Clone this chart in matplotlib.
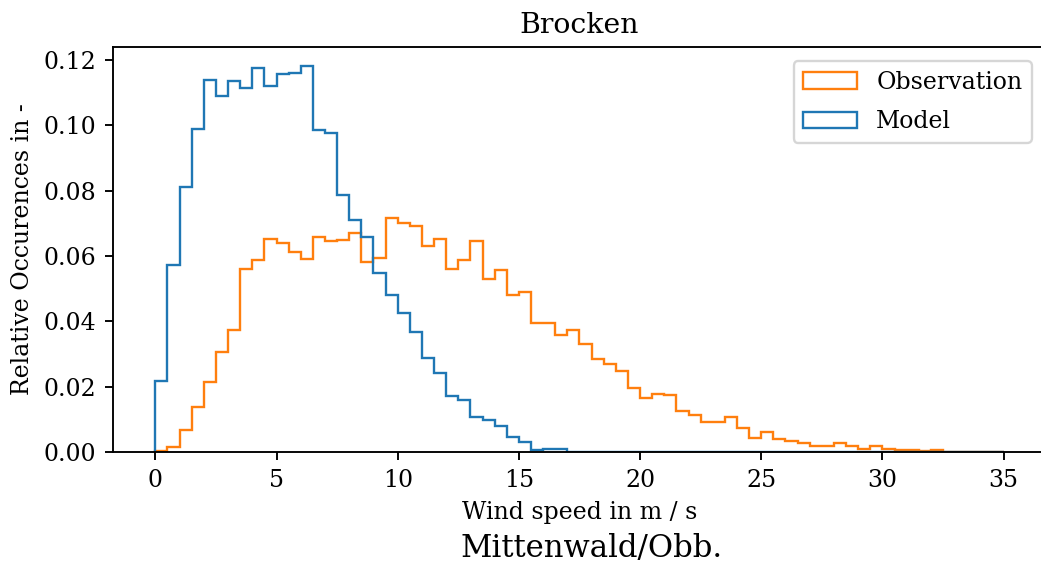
import numpy as np
import matplotlib
matplotlib.use('Agg')
import matplotlib.pyplot as plt

# bin edges in m/s (0.5 m/s bins)
edges = np.arange(0, 35.5, 0.5)

# relative occurrences per bin
observation = [
    0.0003, 0.0016, 0.0068, 0.0137, 0.0214, 0.0306, 0.0374, 0.0561, 0.0589, 0.0653,
    0.0640, 0.0612, 0.0591, 0.0659, 0.0647, 0.0649, 0.0671, 0.0581, 0.0593, 0.0717,
    0.0700, 0.0691, 0.0630, 0.0651, 0.0561, 0.0589, 0.0645, 0.0531, 0.0556, 0.0481,
    0.0491, 0.0395, 0.0395, 0.0359, 0.0374, 0.0330, 0.0284, 0.0269, 0.0249, 0.0195,
    0.0166, 0.0177, 0.0174, 0.0127, 0.0114, 0.0092, 0.0092, 0.0106, 0.0072, 0.0043,
    0.0061, 0.0039, 0.0034, 0.0027, 0.0017, 0.0017, 0.0028, 0.0017, 0.0008, 0.0019,
    0.0009, 0.0006, 0.0005, 0.0004, 0.0005, 0.0, 0.0, 0.0, 0.0, 0.0,
]
model = [
    0.0216, 0.0574, 0.0812, 0.0990, 0.1140, 0.1091, 0.1137, 0.1115, 0.1177, 0.1120,
    0.1157, 0.1159, 0.1181, 0.0985, 0.0978, 0.0787, 0.0710, 0.0658, 0.0548, 0.0480,
    0.0426, 0.0368, 0.0288, 0.0242, 0.0172, 0.0158, 0.0106, 0.0098, 0.0080, 0.0047,
    0.0030, 0.0007, 0.0010, 0.0010, 0.0, 0.0, 0.0, 0.0, 0.0, 0.0,
    0.0, 0.0, 0.0, 0.0, 0.0, 0.0, 0.0, 0.0, 0.0, 0.0,
    0.0, 0.0, 0.0, 0.0, 0.0, 0.0, 0.0, 0.0, 0.0, 0.0,
    0.0, 0.0, 0.0, 0.0, 0.0, 0.0, 0.0, 0.0, 0.0, 0.0,
]

plt.rcParams['font.family'] = ['DejaVu Serif']
dpi = 170
fig = plt.figure(figsize=(1041 / dpi, 568 / dpi), dpi=dpi)
ax = fig.add_axes([0.1085, 0.2042, 0.8963, 0.7131])

centers = edges[:-1] + 0.25
ax.hist(centers, bins=edges, weights=observation, histtype='step', color='tab:orange', label='Observation')
ax.hist(centers, bins=edges, weights=model, histtype='step', color='tab:blue', label='Model')

ax.set_title('Brocken')
ax.set_xlabel('Wind speed in m / s')
ax.set_ylabel('Relative Occurences in -')
ax.legend(loc='upper right', fontsize=10, handlelength=2.3, labelspacing=0.7,
          borderaxespad=0.6, handletextpad=0.8)
fig.text(0.568, 0.035, 'Mittenwald/Obb.', ha='center', va='center', fontsize=13)

plt.savefig('out.png', dpi=dpi)
